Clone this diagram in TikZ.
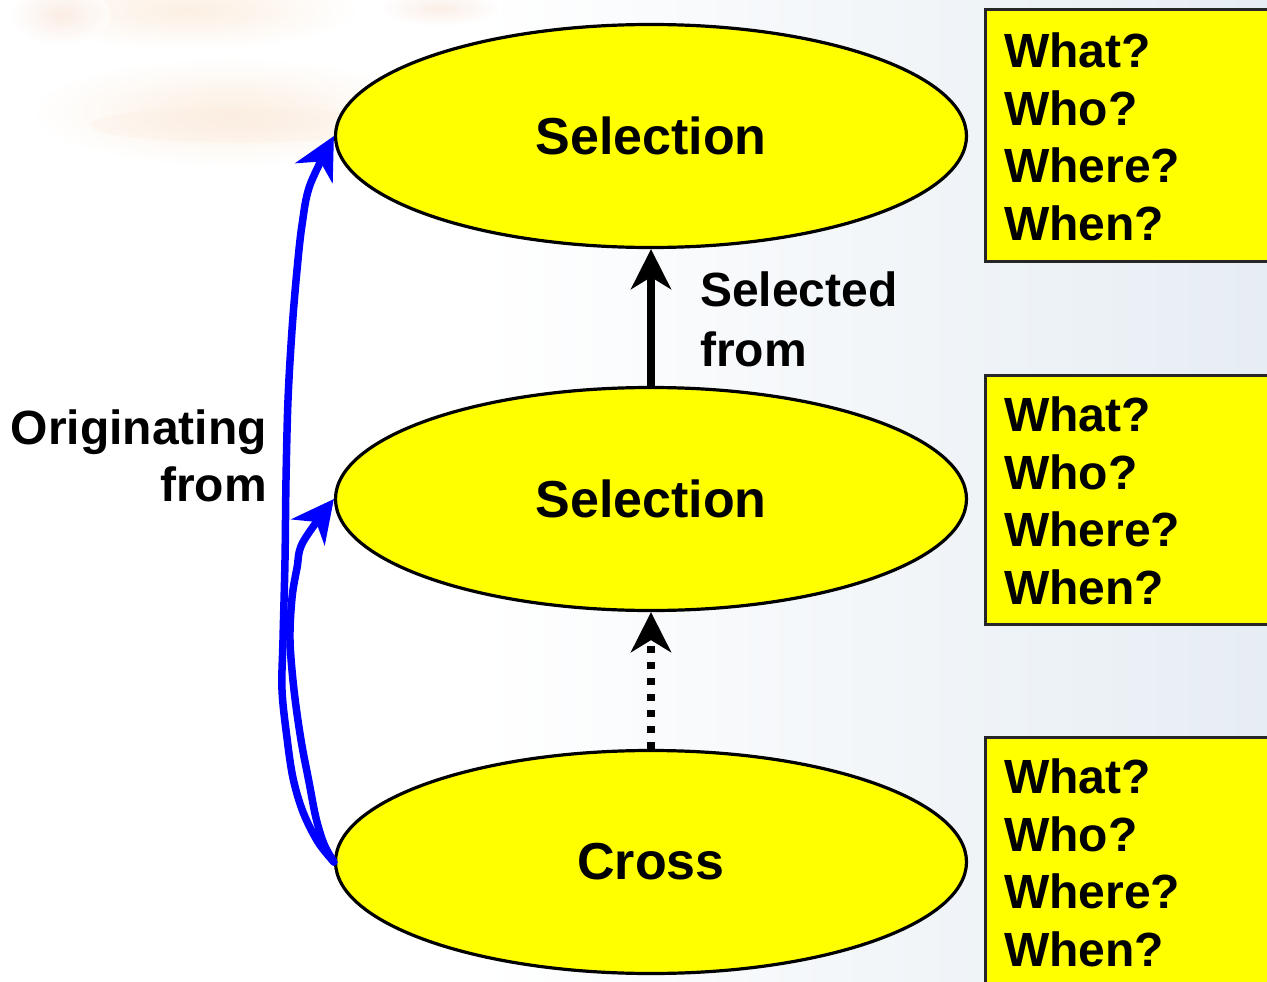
\documentclass[tikz,border=0pt]{standalone}
\usepackage{fontspec}
\setmainfont{Liberation Sans}
\usetikzlibrary{shapes.geometric, arrows.meta}

\definecolor{bgblue}{HTML}{E6EDF3}
\definecolor{leafA}{HTML}{FCEFE2}
\definecolor{leafB}{HTML}{F9E4D8}
\definecolor{qyellow}{HTML}{FFFF00}
\definecolor{arrowblue}{HTML}{0000FF}

\begin{document}
\begin{tikzpicture}[x=1pt, y=-1pt,
  stage/.style={ellipse, draw=black, line width=3.2pt, fill=qyellow,
    minimum width=631pt, minimum height=223pt, inner sep=0pt,
    font=\fontsize{52}{60}\selectfont\bfseries},
  qbox/.style={rectangle, draw=black!85, line width=3pt, fill=qyellow,
    anchor=north west, minimum width=330pt, inner sep=0pt},
  qtext/.style={anchor=north west, inner sep=0pt, align=left,
    font=\fontsize{48}{57.5}\selectfont\bfseries},
  selarrow/.style={line width=7.5pt, draw=black,
    -{Stealth[length=40pt, width=40pt, inset=12pt]}},
  candarrow/.style={selarrow, dash pattern=on 7pt off 9pt},
  origarrow/.style={line width=7.5pt, draw=arrowblue, line cap=round, line join=round,
    -{Stealth[length=42pt, width=42pt, inset=13pt]}},
]
\useasboundingbox (0,0) rectangle (1267,982);
\clip (0,0) rectangle (1267,982);

% page background: white on the left fading to pale blue-grey on the right
\fill[white] (0,0) rectangle (1267,982);
\shade[left color=white, right color=bgblue] (480,0) rectangle (1267,982);

% faint, blurred leaf decoration in the upper left corner
\shade[inner color=leafA, outer color=white] (230,112) ellipse [x radius=200pt, y radius=55pt];
\shade[inner color=leafB, outer color=leafA, opacity=0.3] (240,125) ellipse [x radius=150pt, y radius=18pt];
\shade[inner color=leafA, outer color=white] (190,10) ellipse [x radius=170pt, y radius=40pt];
\shade[inner color=leafB, outer color=white, opacity=0.6] (60,15) ellipse [x radius=50pt, y radius=30pt];
\shade[inner color=leafB, outer color=white, opacity=0.6] (440,8) ellipse [x radius=60pt, y radius=18pt];

% stages
\node[stage] (sel1)  at (651,136) {Selection};
\node[stage] (sel2)  at (651,499) {Selection};
\node[stage] (cross) at (651,862) {Cross};

% question boxes
\node[qbox, minimum height=252pt] (q1) at (984,8)   {};
\node[qbox, minimum height=249pt] (q2) at (984,374) {};
\node[qbox, minimum height=260pt] (q3) at (984,736) {};
\node[qtext] (q1t) at (1004,33)  {What?\\Who?\\Where?\\When?};
\node[qtext] (q2t) at (1004,397) {What?\\Who?\\Where?\\When?};
\node[qtext] (q3t) at (1004,759) {What?\\Who?\\Where?\\When?};

% vertical relations
\draw[selarrow]  (sel2.north)  -- (sel1.south);
\draw[candarrow] (cross.north) -- (sel2.south);
\node[anchor=north west, inner sep=0pt, align=left,
  font=\fontsize{48}{60}\selectfont\bfseries] (selfrom) at (700,272) {Selected\\from};

% origin lines on the left
\draw[origarrow] plot[smooth, tension=0.55] coordinates {
  (cross.west) (318,842) (303,812) (293,778) (287,738) (282,690) (283,640)
  (285,560) (286,480) (288,400) (292,330) (297,270) (302,225) (310,185)
  (sel1.west)};
\draw[origarrow] plot[smooth, tension=0.55] coordinates {
  (cross.west) (324,844) (316,818) (309,782) (301,740) (294,690) (290,640)
  (292,598) (297,568) (303,542) (sel2.west)};
\node[anchor=north east, inner sep=0pt, align=right,
  font=\fontsize{48}{57}\selectfont\bfseries] (origfrom) at (267,410) {Originating\\from};
\end{tikzpicture}
\end{document}
